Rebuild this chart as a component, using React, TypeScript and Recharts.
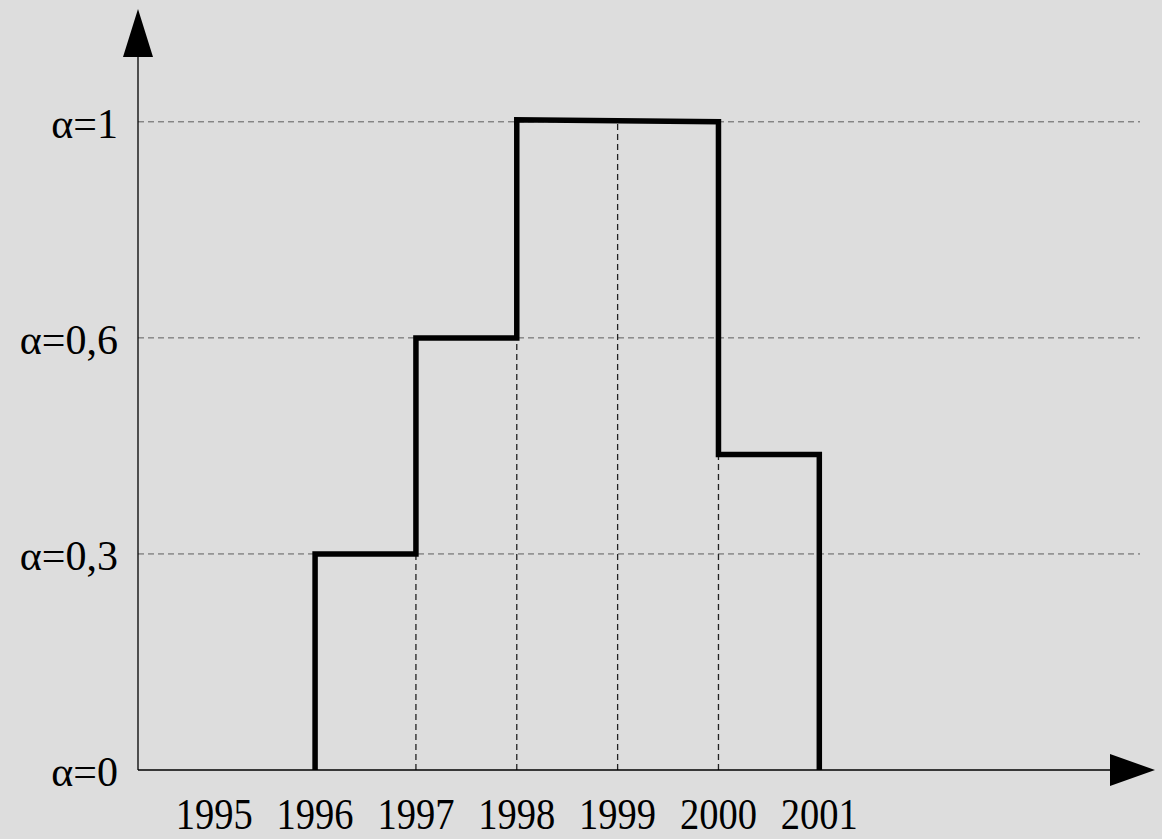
import {
  CartesianGrid,
  ComposedChart,
  Line,
  ReferenceDot,
  XAxis,
  YAxis,
} from "recharts";

// x axis years, y axis alpha levels (evenly spaced on the axis)
const years = [1995, 1996, 1997, 1998, 1999, 2000, 2001];
const alphaLabels = ["α=0", "α=0,3", "α=0,6", "α=1"];
const alphaPositions = [0, 1, 2, 3];

// step curve: each interval [from, to] with level at start / end (axis units)
const stepFrom = [1996, 1997, 1998, 2000];
const stepTo = [1997, 1998, 2000, 2001];
const stepStart = [1, 2, 3.01, 1.46];
const stepEnd = [1, 2, 3.0, 1.46];

// dashed drop lines from the x axis up to the curve
const dropYears = [1997, 1998, 1999, 2000];
const dropTop = [1, 2, 3, 3];

const X_MIN = 1994.244;
const X_MAX = 2004.18;
const Y_MAX = 3.3;

const FONT = '"Liberation Serif", "Times New Roman", serif';

const stepData = [
  { x: stepFrom[0], y: 0 },
  ...stepFrom.flatMap((f, i) => [
    { x: f, y: stepStart[i] },
    { x: stepTo[i], y: stepEnd[i] },
  ]),
  { x: stepTo[stepTo.length - 1], y: 0 },
];

function YearTick({ x, y, payload }: any) {
  return (
    <text
      x={x}
      y={y + 59}
      textAnchor="middle"
      fontSize={44}
      fontFamily={FONT}
      fill="#000"
      textLength={77}
      lengthAdjust="spacingAndGlyphs"
    >
      {payload.value}
    </text>
  );
}

function AlphaTick({ x, y, payload }: any) {
  const idx = alphaPositions.indexOf(payload.value);
  return (
    <text
      x={x - 20}
      y={y + 16}
      textAnchor="end"
      fontSize={42}
      fontFamily={FONT}
      fill="#000"
    >
      {alphaLabels[idx]}
    </text>
  );
}

function UpArrow({ cx, cy }: any) {
  return <polygon points={`${cx - 15},${cy} ${cx + 15},${cy} ${cx},${cy - 48}`} fill="#000" />;
}

function RightArrow({ cx, cy }: any) {
  return (
    <polygon points={`${cx - 30},${cy - 16} ${cx - 30},${cy + 16} ${cx + 15},${cy}`} fill="#000" />
  );
}

export default function App() {
  return (
    <div style={{ width: 1162, height: 839, background: "#dddddd" }}>
      <style>{`body{margin:0}`}</style>
      <ComposedChart
        width={1162}
        height={839}
        margin={{ top: 57, right: 22, left: 0, bottom: 0 }}
      >
        <CartesianGrid
          vertical={false}
          horizontalValues={[1, 2, 3]}
          stroke="#5e5e5e"
          strokeDasharray="6 4"
          strokeWidth={1}
        />
        <XAxis
          type="number"
          dataKey="x"
          domain={[X_MIN, X_MAX]}
          ticks={years}
          allowDataOverflow
          height={69}
          tickSize={0}
          tickMargin={0}
          tickLine={false}
          axisLine={{ stroke: "#000", strokeWidth: 1.3 }}
          tick={<YearTick />}
          interval={0}
        />
        <YAxis
          type="number"
          dataKey="y"
          domain={[0, Y_MAX]}
          ticks={alphaPositions}
          allowDataOverflow
          width={138}
          tickSize={0}
          tickMargin={0}
          tickLine={false}
          axisLine={{ stroke: "#000", strokeWidth: 1.3 }}
          tick={<AlphaTick />}
          interval={0}
        />
        {dropYears.map((yr, i) => (
          <Line
            key={yr}
            data={[
              { x: yr, y: 0 },
              { x: yr, y: dropTop[i] },
            ]}
            dataKey="y"
            type="linear"
            stroke="#222"
            strokeWidth={1.3}
            strokeDasharray="6 4"
            dot={false}
            activeDot={false}
            isAnimationActive={false}
          />
        ))}
        <Line
          data={stepData}
          dataKey="y"
          type="linear"
          stroke="#000"
          strokeWidth={5.5}
          strokeLinejoin="miter"
          strokeLinecap="butt"
          dot={false}
          activeDot={false}
          isAnimationActive={false}
        />
        <ReferenceDot x={X_MIN} y={Y_MAX} r={0} ifOverflow="visible" shape={<UpArrow />} />
        <ReferenceDot x={X_MAX} y={0} r={0} ifOverflow="visible" shape={<RightArrow />} />
      </ComposedChart>
    </div>
  );
}
